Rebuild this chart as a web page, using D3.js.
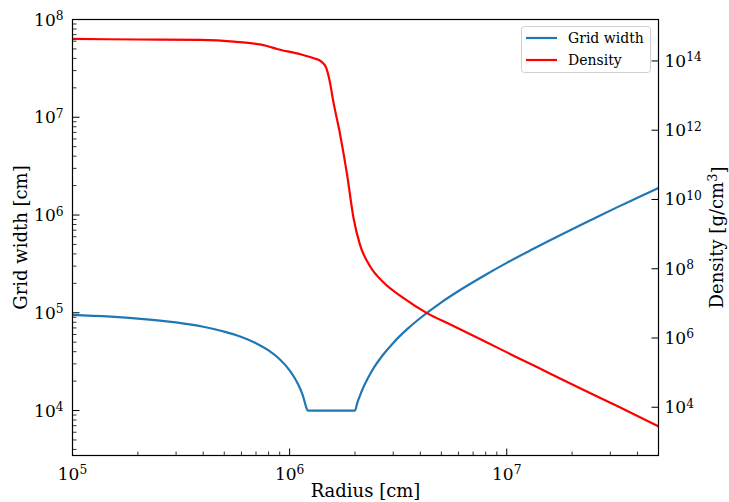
<!DOCTYPE html>
<html><head><meta charset="utf-8">
<script src="https://cdn.jsdelivr.net/npm/d3@7"></script>
<style>
body{margin:0;background:#fff;}
svg text{font-family:"DejaVu Serif",serif;fill:#000;}
</style></head>
<body><svg id="c" width="729" height="502"></svg>
<script>
// ---- data ----
const radiusGrid = [1.0e5,2.0e5,3.0e5,4.0e5,5.0e5,6.0e5,7.0e5,8.0e5,9.0e5,1.0e6,1.05e6,1.1e6,1.15e6,1.2e6,1.21e6,2.0e6,2.05e6,2.1e6,2.2e6,2.4e6,2.7e6,3.0e6,3.5e6,4.0e6,5.0e6,6.0e6,8.0e6,1.0e7,1.3e7,1.6e7,2.0e7,2.5e7,3.2e7,4.0e7,5.0e7];
const gridWidth  = [9.5e4,8.73e4,7.96e4,7.19e4,6.42e4,5.66e4,4.89e4,4.12e4,3.35e4,2.58e4,2.19e4,1.81e4,1.43e4,1.04e4,1.0e4,1.0e4,1.2e4,1.39e4,1.78e4,2.57e4,3.74e4,4.92e4,6.88e4,8.84e4,1.28e5,1.67e5,2.45e5,3.24e5,4.41e5,5.59e5,7.16e5,9.12e5,1.19e6,1.50e6,1.89e6];
const radiusDen  = [1e5,2e5,3.88e5,5.52e5,7.87e5,8.75e5,1.12e6,1.29e6,1.40e6,1.47e6,1.53e6,1.59e6,1.71e6,1.84e6,1.97e6,2.11e6,2.35e6,2.71e6,3.35e6,4.29e6,5.5e6,7.82e6,1.11e7,1.58e7,2.25e7,3.21e7,5.0e7];
const density    = [4.32e14,4.17e14,4.04e14,3.61e14,2.71e14,2.22e14,1.56e14,1.20e14,9.6e13,6.6e13,2.6e13,6.68e12,7.31e11,5.13e10,2.88e9,4.9e8,1.16e8,4.0e7,1.42e7,5.24e6,2.45e6,8.3e5,2.8e5,9.5e4,3.2e4,1.1e4,2.8e3];
const xTickExps = [5,6,7];
const yLeftTickExps = [4,5,6,7,8];
const yRightTickExps = [4,6,8,10,12,14];
const seriesNames = ["Grid width","Density"];
const colors = ["#1f77b4","#ff0000"];

// ---- layout ----
const L=72.5, R=658.5, T=19.5, B=455.5;
const svg=d3.select("#c");
const x=d3.scaleLog().domain([1e5,5e7]).range([L,R]);
const yL=d3.scaleLog().domain([Math.pow(10,3.54),1e8]).range([B,T]);
const yR=d3.scaleLog().domain([Math.pow(10,2.607),Math.pow(10,15.197)]).range([B,T]);

const line1=d3.line().x((d,i)=>x(radiusGrid[i])).y(d=>yL(d)).curve(d3.curveMonotoneX);
const line2=d3.line().x((d,i)=>x(radiusDen[i])).y(d=>yR(d)).curve(d3.curveMonotoneX);

svg.append("defs").append("clipPath").attr("id","clip").append("rect")
  .attr("x",L).attr("y",T).attr("width",R-L).attr("height",B-T);

const g=svg.append("g").attr("clip-path","url(#clip)");
g.append("path").attr("d",line1(gridWidth)).attr("fill","none").attr("stroke",colors[0]).attr("stroke-width",2.2).attr("stroke-linejoin","round");
g.append("path").attr("d",line2(density)).attr("fill","none").attr("stroke",colors[1]).attr("stroke-width",2.2).attr("stroke-linejoin","round");

// minor tick values
function minors(lo,hi){const a=[];for(let e=lo;e<hi;e++)for(let k=2;k<=9;k++)a.push(k*Math.pow(10,e));return a;}
const xMin=minors(5,8).filter(v=>v<=5e7);
const yMin=minors(3,8).filter(v=>v>=yL.domain()[0]&&v<=1e8);

function label(sel,exp){
  sel.text("10");
  sel.append("tspan").attr("dy","-0.45em").attr("font-size","0.72em").text(exp);
}
const fs=17;

const ax=svg.append("g");
// bottom axis ticks (inward)
xTickExps.forEach(e=>{
  const px=x(Math.pow(10,e));
  ax.append("line").attr("x1",px).attr("x2",px).attr("y1",B).attr("y2",B-7).attr("stroke","#000").attr("stroke-width",1);
  ax.append("text").attr("x",px).attr("y",B+24).attr("text-anchor","middle").attr("font-size",fs).call(label,e);
});
xMin.forEach(v=>{const px=x(v);
  ax.append("line").attr("x1",px).attr("x2",px).attr("y1",B).attr("y2",B-4).attr("stroke","#000").attr("stroke-width",0.8);});

// left axis
yLeftTickExps.forEach(e=>{
  const py=yL(Math.pow(10,e));
  ax.append("line").attr("x1",L).attr("x2",L+7).attr("y1",py).attr("y2",py).attr("stroke","#000").attr("stroke-width",1);
  ax.append("text").attr("x",L-9).attr("y",py+6).attr("text-anchor","end").attr("font-size",fs).call(label,e);
});
yMin.forEach(v=>{const py=yL(v);
  ax.append("line").attr("x1",L).attr("x2",L+4).attr("y1",py).attr("y2",py).attr("stroke","#000").attr("stroke-width",0.8);});

// right axis
yRightTickExps.forEach(e=>{
  const py=yR(Math.pow(10,e));
  ax.append("line").attr("x1",R).attr("x2",R-7).attr("y1",py).attr("y2",py).attr("stroke","#000").attr("stroke-width",1);
  ax.append("text").attr("x",R+6).attr("y",py+6).attr("text-anchor","start").attr("font-size",fs).call(label,e);
});

// frame
svg.append("rect").attr("x",L).attr("y",T).attr("width",R-L).attr("height",B-T).attr("fill","none").attr("stroke","#000").attr("stroke-width",1.2);

// axis labels
svg.append("text").attr("x",(L+R)/2).attr("y",497).attr("text-anchor","middle").attr("font-size",18).text("Radius [cm]");
svg.append("text").attr("transform",`translate(27,${(T+B)/2}) rotate(-90)`).attr("text-anchor","middle").attr("font-size",18).text("Grid width [cm]");
const dl=svg.append("text").attr("transform",`translate(723,${(T+B)/2}) rotate(-90)`).attr("text-anchor","middle").attr("font-size",18);
dl.text("Density [g/cm");
dl.append("tspan").attr("dy","-0.45em").attr("font-size","0.72em").text("3");
dl.append("tspan").attr("dy","0.45em").text("]");

// legend
const lg=svg.append("g");
lg.append("rect").attr("x",521.5).attr("y",26.5).attr("width",129).attr("height",46).attr("rx",3)
  .attr("fill","#fff").attr("fill-opacity",0.8).attr("stroke","#d0d0d0").attr("stroke-width",1);
seriesNames.forEach((n,i)=>{
  const yy=38+i*22;
  lg.append("line").attr("x1",526).attr("x2",557).attr("y1",yy).attr("y2",yy).attr("stroke",colors[i]).attr("stroke-width",2.2);
  lg.append("text").attr("x",568).attr("y",yy+5).attr("font-size",14).text(n);
});
</script></body></html>
